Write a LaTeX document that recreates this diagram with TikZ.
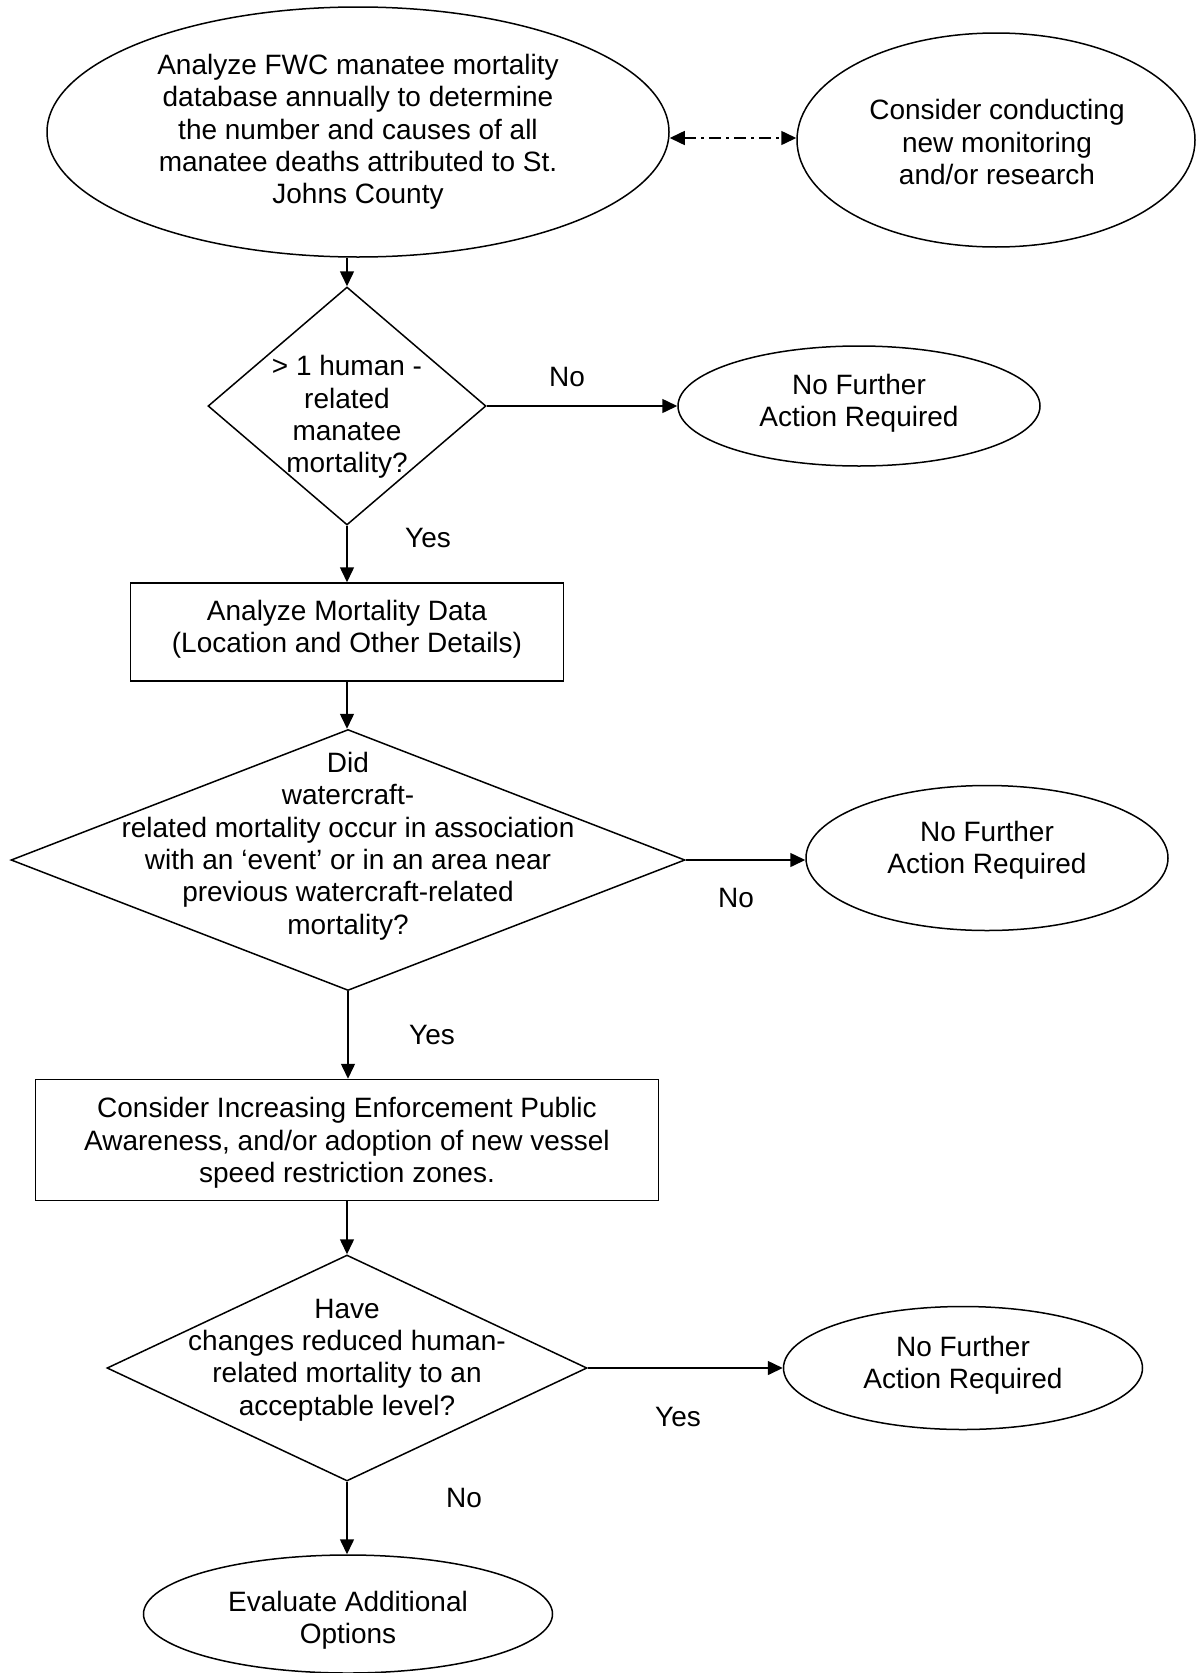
\documentclass[tikz,border=0pt]{standalone}
\usepackage{fontspec}
\setmainfont{Liberation Sans}
\usetikzlibrary{shapes.geometric,arrows.meta}
\begin{document}
\begin{tikzpicture}[x=1pt,y=-1pt,
  every node/.style={font=\fontsize{28}{32.3}\selectfont},
  shp/.style={draw, line width=1.5pt, inner sep=0pt},
  oval/.style={shp, ellipse},
  dia/.style={shp, diamond},
  box/.style={shp, rectangle},
  txt/.style={align=center, inner sep=0pt},
  lbl/.style={inner sep=0pt},
  conn/.style={line width=1.5pt, -{Triangle[length=15pt,width=14pt]}},
  dd/.style={line width=1.5pt, dash pattern=on 12pt off 5pt on 3pt off 5pt,
             {Triangle[length=15pt,width=14pt]}-{Triangle[length=15pt,width=14pt]}},
]
\useasboundingbox (0,0) rectangle (1195,1673);

% shapes
\node[oval, minimum width=622pt, minimum height=250pt] (A) at (358,132) {};
\node[oval, minimum width=398pt, minimum height=214pt] (B) at (996,140) {};
\node[dia, minimum width=278pt, minimum height=238pt] (D1) at (347,406) {};
\node[oval, minimum width=362pt, minimum height=120pt] (C) at (859,406) {};
\node[box, minimum width=433pt, minimum height=98pt] (R1) at (347,632) {};
\node[dia, minimum width=674pt, minimum height=261pt] (D2) at (348,860) {};
\node[oval, minimum width=362pt, minimum height=145pt] (D) at (987,858) {};
\node[box, minimum width=623pt, minimum height=121pt] (R2) at (347,1140) {};
\node[dia, minimum width=480pt, minimum height=226pt] (D3) at (347,1368) {};
\node[oval, minimum width=359pt, minimum height=123pt] (E) at (963,1368) {};
\node[oval, minimum width=409pt, minimum height=118pt] (F) at (348,1614) {};

% texts
\node[txt] (At) at (358,132) {Analyze FWC manatee mortality\\database annually to determine\\the number and causes of all\\manatee deaths attributed to St.\\Johns County};
\node[txt] (Bt) at (997,142) {Consider conducting\\new monitoring\\and/or research};
\node[txt] (D1t) at (347,417) {> 1 human -\\related\\manatee\\mortality?};
\node[txt] (Ct) at (859,403) {No Further\\Action Required};
\node[txt] (R1t) at (347,629) {Analyze Mortality Data\\(Location and Other Details)};
\node[txt] (D2t) at (348,846) {Did\\watercraft-\\related mortality occur in association\\with an ‘event’ or in an area near\\previous watercraft-related\\mortality?};
\node[txt] (Dt) at (987,850) {No Further\\Action Required};
\node[txt] (R2t) at (347,1143) {Consider Increasing Enforcement Public\\Awareness, and/or adoption of new vessel\\speed restriction zones.};
\node[txt] (D3t) at (347,1360) {Have\\changes reduced human-\\related mortality to an\\acceptable level?};
\node[txt] (Et) at (963,1365) {No Further\\Action Required};
\node[txt] (Ft) at (348,1620) {Evaluate Additional\\Options};

% labels
\node[lbl] (l1) at (567,377) {No};
\node[lbl] (l2) at (428,538) {Yes};
\node[lbl] (l3) at (736,898) {No};
\node[lbl] (l4) at (432,1035) {Yes};
\node[lbl] (l5) at (678,1417) {Yes};
\node[lbl] (l6) at (464,1498) {No};

% connectors
\draw[dd] (A.east |- 0,138) -- (B.west |- 0,138);
\draw[conn] (A.south -| D1.north) -- (D1.north);
\draw[conn] (D1.east) -- (C.west);
\draw[conn] (D1.south) -- (R1.north);
\draw[conn] (R1.south) -- (R1.south |- D2.north);
\draw[conn] (D2.east) -- (D2.east -| D.west);
\draw[conn] (D2.south) -- (D2.south |- R2.north);
\draw[conn] (R2.south) -- (R2.south |- D3.north);
\draw[conn] (D3.east) -- (D3.east -| E.west);
\draw[conn] (D3.south) -- (D3.south |- F.north);
\end{tikzpicture}
\end{document}
